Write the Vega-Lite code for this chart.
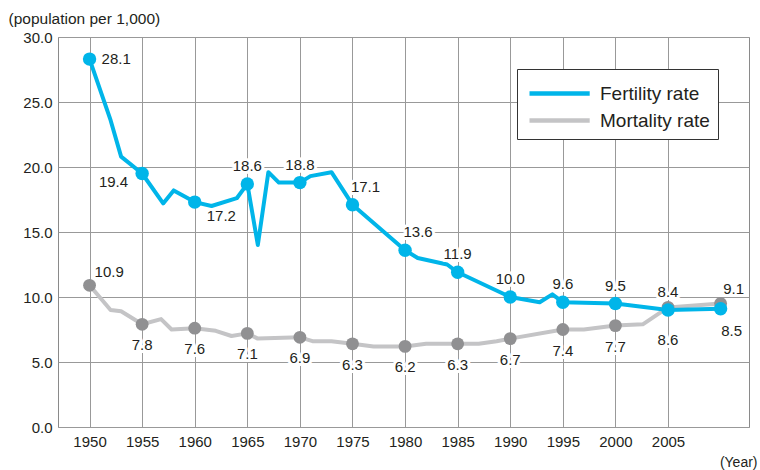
{
  "$schema": "https://vega.github.io/schema/vega-lite/v6.json",
  "width": 691,
  "height": 390,
  "autosize": {"type": "none"},
  "padding": {"left": 58, "top": 37, "right": 11, "bottom": 43},
  "background": "white",
  "config": {
    "font": "Liberation Sans",
    "view": {"stroke": "#8a8a8a", "strokeWidth": 1},
    "axis": {"labelColor": "#231f20", "titleColor": "#231f20", "gridColor": "#999999", "gridWidth": 1, "gridOpacity": 1},
    "legend": {
      "orient": "none", "legendX": 459, "legendY": 32, "title": null,
      "fillColor": "white", "strokeColor": "#333333", "padding": 8,
      "symbolType": "M-1,0H3.3", "symbolSize": 784, "symbolStrokeWidth": 4.5, "symbolOffset": 2,
      "labelFontSize": 19, "labelColor": "#231f20", "rowPadding": 0, "labelOffset": 40
    }
  },
  "data": {
    "values": [
      {"year": 1950, "series": "Fertility rate", "value": 28.3, "label": "28.1"},
      {"year": 1952, "series": "Fertility rate", "value": 23.6},
      {"year": 1953, "series": "Fertility rate", "value": 20.8},
      {"year": 1955, "series": "Fertility rate", "value": 19.5, "label": "19.4"},
      {"year": 1957, "series": "Fertility rate", "value": 17.2},
      {"year": 1958, "series": "Fertility rate", "value": 18.2},
      {"year": 1960, "series": "Fertility rate", "value": 17.3, "label": "17.2"},
      {"year": 1961.6, "series": "Fertility rate", "value": 17.0},
      {"year": 1964, "series": "Fertility rate", "value": 17.6},
      {"year": 1965, "series": "Fertility rate", "value": 18.7, "label": "18.6"},
      {"year": 1966, "series": "Fertility rate", "value": 14.0},
      {"year": 1967, "series": "Fertility rate", "value": 19.6},
      {"year": 1968, "series": "Fertility rate", "value": 18.8},
      {"year": 1970, "series": "Fertility rate", "value": 18.8, "label": "18.8"},
      {"year": 1971, "series": "Fertility rate", "value": 19.3},
      {"year": 1973, "series": "Fertility rate", "value": 19.6},
      {"year": 1975, "series": "Fertility rate", "value": 17.1, "label": "17.1"},
      {"year": 1980, "series": "Fertility rate", "value": 13.6, "label": "13.6"},
      {"year": 1981.2, "series": "Fertility rate", "value": 13.0},
      {"year": 1984, "series": "Fertility rate", "value": 12.5},
      {"year": 1985, "series": "Fertility rate", "value": 11.9, "label": "11.9"},
      {"year": 1990, "series": "Fertility rate", "value": 10.0, "label": "10.0"},
      {"year": 1992.8, "series": "Fertility rate", "value": 9.6},
      {"year": 1994, "series": "Fertility rate", "value": 10.2},
      {"year": 1995, "series": "Fertility rate", "value": 9.6, "label": "9.6"},
      {"year": 2000, "series": "Fertility rate", "value": 9.5, "label": "9.5"},
      {"year": 2005, "series": "Fertility rate", "value": 9.0, "label": "8.4"},
      {"year": 2010, "series": "Fertility rate", "value": 9.1, "label": "8.5"},
      {"year": 1950, "series": "Mortality rate", "value": 10.9, "label": "10.9"},
      {"year": 1952, "series": "Mortality rate", "value": 9.0},
      {"year": 1953, "series": "Mortality rate", "value": 8.9},
      {"year": 1955, "series": "Mortality rate", "value": 7.9, "label": "7.8"},
      {"year": 1956.8, "series": "Mortality rate", "value": 8.3},
      {"year": 1957.8, "series": "Mortality rate", "value": 7.5},
      {"year": 1960, "series": "Mortality rate", "value": 7.6, "label": "7.6"},
      {"year": 1962, "series": "Mortality rate", "value": 7.4},
      {"year": 1963.5, "series": "Mortality rate", "value": 7.0},
      {"year": 1965, "series": "Mortality rate", "value": 7.2, "label": "7.1"},
      {"year": 1966, "series": "Mortality rate", "value": 6.8},
      {"year": 1970, "series": "Mortality rate", "value": 6.9, "label": "6.9"},
      {"year": 1971.2, "series": "Mortality rate", "value": 6.6},
      {"year": 1973, "series": "Mortality rate", "value": 6.6},
      {"year": 1975, "series": "Mortality rate", "value": 6.4, "label": "6.3"},
      {"year": 1977, "series": "Mortality rate", "value": 6.2},
      {"year": 1980, "series": "Mortality rate", "value": 6.2, "label": "6.2"},
      {"year": 1982, "series": "Mortality rate", "value": 6.4},
      {"year": 1985, "series": "Mortality rate", "value": 6.4, "label": "6.3"},
      {"year": 1987, "series": "Mortality rate", "value": 6.4},
      {"year": 1988.7, "series": "Mortality rate", "value": 6.6},
      {"year": 1990, "series": "Mortality rate", "value": 6.8, "label": "6.7"},
      {"year": 1995, "series": "Mortality rate", "value": 7.5, "label": "7.4"},
      {"year": 1997, "series": "Mortality rate", "value": 7.5},
      {"year": 2000, "series": "Mortality rate", "value": 7.8, "label": "7.7"},
      {"year": 2002.6, "series": "Mortality rate", "value": 7.9},
      {"year": 2005, "series": "Mortality rate", "value": 9.2, "label": "8.6"},
      {"year": 2010, "series": "Mortality rate", "value": 9.5, "label": "9.1"}
    ]
  },
  "encoding": {
    "x": {
      "field": "year", "type": "quantitative",
      "scale": {"domain": [1947, 2012.7], "nice": false, "zero": false},
      "axis": {
        "values": [1950, 1955, 1960, 1965, 1970, 1975, 1980, 1985, 1990, 1995, 2000, 2005],
        "format": "d", "grid": true, "ticks": false, "domain": false,
        "labelPadding": 7, "labelFontSize": 15,
        "title": "(Year)", "titleX": 699, "titleY": 35, "titleAlign": "right", "titleBaseline": "middle",
        "titleFontWeight": "normal", "titleFontSize": 14
      }
    },
    "y": {
      "field": "value", "type": "quantitative",
      "scale": {"domain": [0, 30], "nice": false},
      "axis": {
        "values": [0, 5, 10, 15, 20, 25, 30],
        "format": ".1f", "grid": true, "ticks": false, "domain": false,
        "labelPadding": 6, "labelFontSize": 15,
        "title": "(population per 1,000)", "titleAngle": 0, "titleX": -50, "titleY": -19,
        "titleAlign": "left", "titleBaseline": "middle", "titleFontWeight": "normal", "titleFontSize": 15.5
      }
    }
  },
  "layer": [
    {
      "transform": [{"filter": "datum.series == 'Mortality rate'"}],
      "mark": {"type": "line", "strokeWidth": 4, "strokeJoin": "round"},
      "encoding": {
        "color": {
          "field": "series", "type": "nominal",
          "scale": {"domain": ["Fertility rate", "Mortality rate"], "range": ["#00b5e9", "#c4c4c6"]}
        }
      }
    },
    {
      "transform": [{"filter": "datum.series == 'Fertility rate'"}],
      "mark": {"type": "line", "strokeWidth": 4, "strokeJoin": "round"},
      "encoding": {
        "color": {
          "field": "series", "type": "nominal",
          "scale": {"domain": ["Fertility rate", "Mortality rate"], "range": ["#00b5e9", "#c4c4c6"]}
        }
      }
    },
    {
      "transform": [{"filter": "datum.series == 'Mortality rate' && datum.label != null"}],
      "mark": {"type": "point", "filled": true, "opacity": 1, "color": "#909092", "size": 165}
    },
    {
      "transform": [{"filter": "datum.series == 'Fertility rate' && datum.label != null"}],
      "mark": {"type": "point", "filled": true, "opacity": 1, "color": "#00b5e9", "size": 180}
    },
    {
      "transform": [{"filter": "datum.label != null"}],
      "mark": {
        "type": "text", "fontSize": 15, "baseline": "middle",
        "fill": "white", "stroke": "white", "strokeWidth": 6, "strokeJoin": "round",
        "align": {"expr": "datum.series == 'Fertility rate' ? (datum.year == 1955 ? 'right' : (datum.year == 1950 || datum.year == 1960) ? 'left' : 'center') : (datum.year == 1950 ? 'left' : 'center')"},
        "dx": {"expr": "datum.series == 'Fertility rate' ? (datum.year == 1950 ? 12 : datum.year == 1955 ? -14 : datum.year == 1960 ? 12 : (datum.year == 1975 || datum.year == 1980) ? 13 : datum.year == 2010 ? 11 : 0) : (datum.year == 1950 ? 5 : datum.year == 2010 ? 13 : 0)"},
        "dy": {"expr": "datum.series == 'Fertility rate' ? (datum.year == 1950 ? 0 : datum.year == 1955 ? 8 : datum.year == 1960 ? 14 : datum.year == 2010 ? 22 : -18) : (datum.year == 1950 ? -13 : datum.year == 2005 ? 33 : datum.year == 2010 ? -15 : 21)"}
      },
      "encoding": {"text": {"field": "label"}}
    },
    {
      "transform": [{"filter": "datum.label != null"}],
      "mark": {
        "type": "text", "fontSize": 15, "baseline": "middle", "color": "#231f20",
        "align": {"expr": "datum.series == 'Fertility rate' ? (datum.year == 1955 ? 'right' : (datum.year == 1950 || datum.year == 1960) ? 'left' : 'center') : (datum.year == 1950 ? 'left' : 'center')"},
        "dx": {"expr": "datum.series == 'Fertility rate' ? (datum.year == 1950 ? 12 : datum.year == 1955 ? -14 : datum.year == 1960 ? 12 : (datum.year == 1975 || datum.year == 1980) ? 13 : datum.year == 2010 ? 11 : 0) : (datum.year == 1950 ? 5 : datum.year == 2010 ? 13 : 0)"},
        "dy": {"expr": "datum.series == 'Fertility rate' ? (datum.year == 1950 ? 0 : datum.year == 1955 ? 8 : datum.year == 1960 ? 14 : datum.year == 2010 ? 22 : -18) : (datum.year == 1950 ? -13 : datum.year == 2005 ? 33 : datum.year == 2010 ? -15 : 21)"}
      },
      "encoding": {"text": {"field": "label"}}
    }
  ]
}
